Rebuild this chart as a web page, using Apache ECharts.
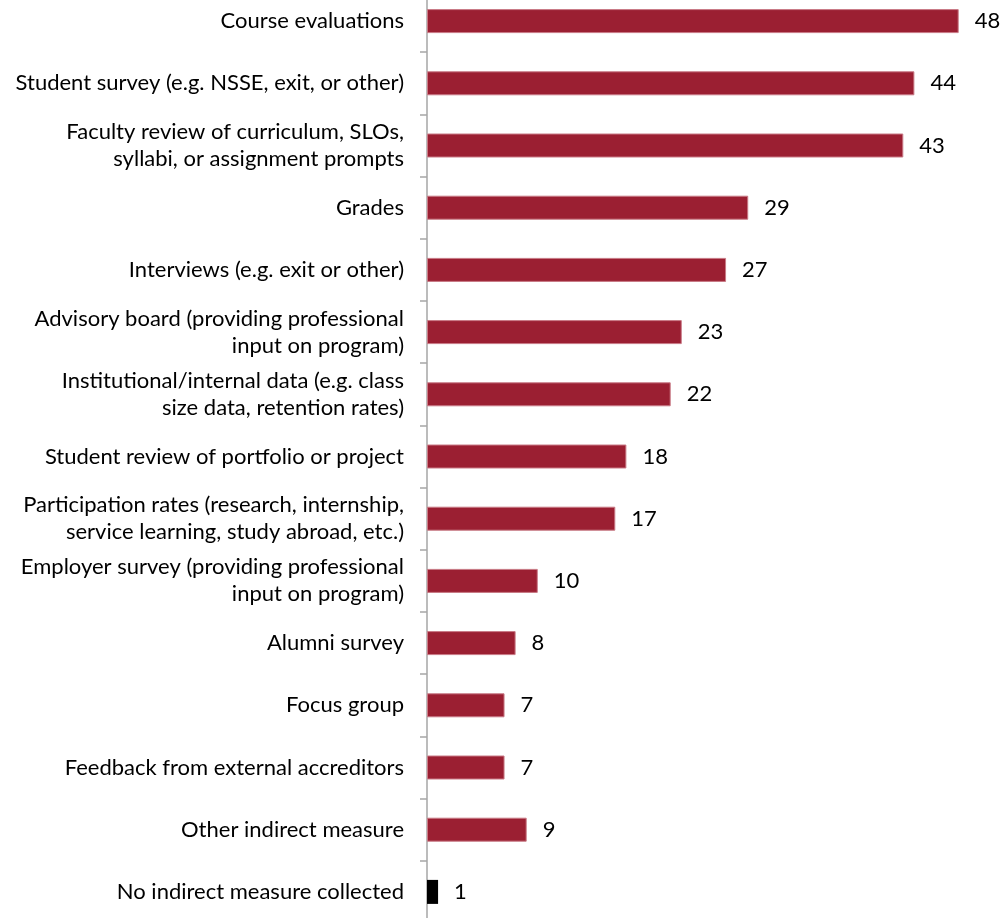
<!DOCTYPE html>
<html><head><meta charset="utf-8">
<script src="https://cdn.jsdelivr.net/npm/echarts@6/dist/echarts.min.js"></script>
<style>html,body{margin:0;padding:0;background:#fff;overflow:hidden;width:1006px;height:918px}#c{width:1006px;height:933px;margin-top:-10px}</style>
</head><body><div id="c"></div>
<script>
const categories = [
  "Course evaluations",
  "Student survey (e.g. NSSE, exit, or other)",
  "Faculty review of curriculum, SLOs,\nsyllabi, or assignment prompts",
  "Grades",
  "Interviews (e.g. exit or other)",
  "Advisory board (providing professional\ninput on program)",
  "Institutional/internal data (e.g. class\nsize data, retention rates)",
  "Student review of portfolio or project",
  "Participation rates (research, internship,\nservice learning, study abroad, etc.)",
  "Employer survey (providing professional\ninput on program)",
  "Alumni survey",
  "Focus group",
  "Feedback from external accreditors",
  "Other indirect measure",
  "No indirect measure collected"
];
const values = [48, 44, 43, 29, 27, 23, 22, 18, 17, 10, 8, 7, 7, 9, 1];
const highlightIndex = 14;

const FONT = 'Lato';
const chart = echarts.init(document.getElementById('c'));
chart.setOption({
  animation: false,
  textStyle: { fontFamily: FONT },
  grid: { left: 427, width: 576, top: 0, bottom: 0, containLabel: false },
  xAxis: { type: 'value', min: 0, max: 52, show: false },
  yAxis: {
    type: 'category', inverse: true, data: categories,
    axisLine: { lineStyle: { color: '#A6A6A6', width: 1.5 } },
    axisTick: { show: true, length: 7, lineStyle: { color: '#A6A6A6', width: 1.5 } },
    axisLabel: { color: '#000', fontSize: 22, fontFamily: FONT, margin: 23, lineHeight: 27, align: 'right' }
  },
  series: [{
    type: 'bar', barWidth: 24,
    data: values.map((v, i) => ({
      value: v,
      itemStyle: i === highlightIndex
        ? { color: '#000' }
        : { color: '#9B1F32', borderColor: '#C97A86', borderWidth: 1 }
    })),
    label: { show: true, position: 'right', distance: 16, color: '#000', fontSize: 22, fontFamily: FONT }
  }]
});
</script></body></html>
